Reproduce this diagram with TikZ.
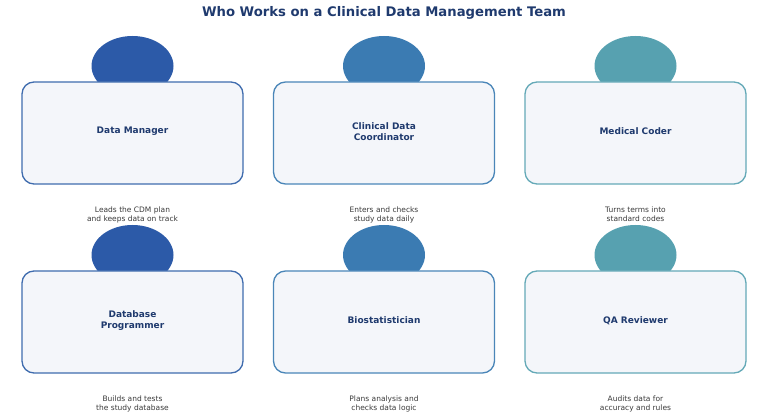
\documentclass[tikz,border=0pt]{standalone}
\usepackage{fontspec}
\setmainfont{DejaVu Sans}
\usetikzlibrary{shapes.geometric}
\definecolor{cA}{HTML}{2C5AA8}
\definecolor{cB}{HTML}{3B7BB2}
\definecolor{cC}{HTML}{57A1B0}
\definecolor{bA}{HTML}{3F6CAE}
\definecolor{bB}{HTML}{4A86B8}
\definecolor{bC}{HTML}{64A9B7}
\definecolor{boxfill}{HTML}{F4F6FA}
\definecolor{navy}{HTML}{1F3A6E}
\definecolor{desc}{HTML}{3A3A3A}
\tikzset{
  head/.style={ellipse, fill=#1, draw=none, minimum width=82pt, minimum height=60pt, inner sep=0pt},
  card/.style={rounded corners=12pt, draw=#1, line width=1.3pt, fill=boxfill, minimum width=221pt, minimum height=102pt, inner sep=0pt},
  role/.style={font=\fontsize{9}{11}\selectfont\bfseries, text=navy, align=center, inner sep=0pt},
  note/.style={font=\fontsize{7.5}{9}\selectfont, text=desc, align=center},
  ttl/.style={font=\fontsize{13.2}{15}\selectfont\bfseries, text=navy}
}
\begin{document}
\begin{tikzpicture}[x=1pt,y=-1pt]
\useasboundingbox (0,0) rectangle (768,419);
\node[ttl] (title) at (384,13) {Who Works on a Clinical Data Management Team};
% row 1
\node[head=cA] (h1) at (132.5,66) {};
\node[head=cB] (h2) at (384,66) {};
\node[head=cC] (h3) at (635.5,66) {};
\node[card=bA] (c1) at (132.5,133) {};
\node[card=bB] (c2) at (384,133) {};
\node[card=bC] (c3) at (635.5,133) {};
\node[role] (r1) at (132.5,131.5) {Data Manager};
\node[role] (r2) at (384,131.5) {Clinical Data\\Coordinator};
\node[role] (r3) at (635.5,131.5) {Medical Coder};
\node[note] (n1) at (132.5,214.5) {Leads the CDM plan\\and keeps data on track};
\node[note] (n2) at (384,214.5) {Enters and checks\\study data daily};
\node[note] (n3) at (635.5,214.5) {Turns terms into\\standard codes};
% row 2
\node[head=cA] (h4) at (132.5,255) {};
\node[head=cB] (h5) at (384,255) {};
\node[head=cC] (h6) at (635.5,255) {};
\node[card=bA] (c4) at (132.5,322) {};
\node[card=bB] (c5) at (384,322) {};
\node[card=bC] (c6) at (635.5,322) {};
\node[role] (r4) at (132.5,320.5) {Database\\Programmer};
\node[role] (r5) at (384,320.5) {Biostatistician};
\node[role] (r6) at (635.5,320.5) {QA Reviewer};
\node[note] (n4) at (132.5,403.5) {Builds and tests\\the study database};
\node[note] (n5) at (384,403.5) {Plans analysis and\\checks data logic};
\node[note] (n6) at (635.5,403.5) {Audits data for\\accuracy and rules};
\end{tikzpicture}
\end{document}
